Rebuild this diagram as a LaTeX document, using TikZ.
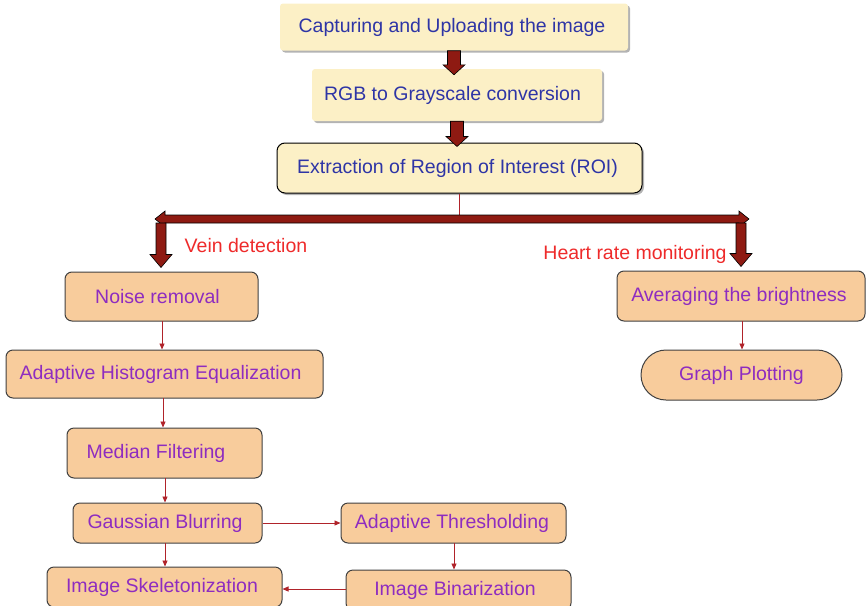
\documentclass[tikz,border=0pt]{standalone}
\usepackage{fontspec}
\setmainfont{Liberation Sans}
\usetikzlibrary{calc,shadows,arrows.meta}
\definecolor{ylw}{HTML}{FCF0C6}
\definecolor{org}{HTML}{F8CC9C}
\definecolor{txtblue}{HTML}{2E35A6}
\definecolor{txtpurp}{HTML}{8E2CC0}
\definecolor{lblred}{HTML}{EE2A2A}
\definecolor{arrred}{HTML}{8E1A12}
\definecolor{lnred}{HTML}{B0232A}
\newcommand\padr[1]{\makebox[#1]{}}
\newcommand\bigdown[5]{\draw[bigarr] let \p1=#1, \p2=#2 in
  (\x1-#3pt,\y1) -- (\x1+#3pt,\y1) -- (\x1+#3pt,\y2+#5pt) -- (\x1+#4pt,\y2+#5pt)
  -- (\x1,\y2) -- (\x1-#4pt,\y2+#5pt) -- (\x1-#3pt,\y2+#5pt) -- cycle;}
\begin{document}
\begin{tikzpicture}[x=1pt,y=-1pt,
  font=\fontsize{19.5}{23}\selectfont,
  ybox/.style={fill=ylw, rounded corners=3pt, text=txtblue, inner sep=0pt,
    drop shadow={shadow xshift=2pt,shadow yshift=-2pt,fill=black!50,opacity=0.6}},
  obox/.style={fill=org, draw=black!75, line width=1pt, rounded corners=7pt, text=txtpurp, inner sep=0pt},
  bigarr/.style={fill=arrred, draw=black, line width=0.6pt, line join=miter},
  thin/.style={draw=lnred, line width=0.9pt, -{Triangle[length=6pt,width=5pt]}},
  lbl/.style={text=lblred, inner sep=0pt}]
\useasboundingbox (0,0) rectangle (866,605);
% top boxes
\node[ybox, minimum width=348pt, minimum height=47pt] (cap) at (454,27) {Capturing and Uploading the image\padr{4pt}};
\node[ybox, minimum width=290pt, minimum height=52pt] (rgb) at (457,95) {RGB to Grayscale conversion\padr{9pt}};
\node[ybox, draw=black, line width=1pt, rounded corners=8pt, minimum width=365pt, minimum height=50pt] (roi) at (459.5,168) {Extraction of Region of Interest (ROI)\padr{4pt}};
\bigdown{(cap.south)}{($(rgb.north)+(0,6)$)}{6.5}{11}{10}
\bigdown{(rgb.south)}{($(roi.north)+(0,4)$)}{6.5}{11}{10}
% branch bar
\coordinate (bl) at (155,219);
\coordinate (br) at (749,219);
\draw[draw=lnred, line width=0.9pt] (roi.south) -- (roi.south |- bl);
\draw[bigarr] let \p1=(bl), \p2=(br) in (\x1,\y1) -- (\x1+10pt,\y1+8pt) -- (\x1+10pt,\y1+4pt)
  -- (\x2-10pt,\y1+4pt) -- (\x2-10pt,\y1+8pt) -- (\x2,\y1) -- (\x2-10pt,\y1-8pt) -- (\x2-10pt,\y1-4pt)
  -- (\x1+10pt,\y1-4pt) -- (\x1+10pt,\y1-8pt) -- cycle;
% left branch
\node[obox, minimum width=193pt, minimum height=49pt] (noise) at (161.5,296.5) {Noise removal\padr{8pt}};
\node[obox, minimum width=317pt, minimum height=48pt] (ahe) at (164.5,374) {Adaptive Histogram Equalization\padr{8pt}};
\node[obox, minimum width=195pt, minimum height=50pt] (median) at (164.5,453) {Median Filtering\padr{17pt}};
\node[obox, minimum width=189pt, minimum height=40pt] (gauss) at (167.5,523) {Gaussian Blurring\padr{5pt}};
\node[obox, minimum width=225pt, minimum height=40pt] (adth) at (453.5,523) {Adaptive Thresholding\padr{3pt}};
\node[obox, minimum width=235pt, minimum height=40pt] (skel) at (164.5,587) {Image Skeletonization\padr{5pt}};
\node[obox, minimum width=225pt, minimum height=40pt] (bin) at (458.5,590) {Image Binarization\padr{7pt}};
% right branch
\node[obox, minimum width=248pt, minimum height=50pt] (avg) at (741,296) {Averaging the brightness\padr{4pt}};
\node[obox, rounded corners=25pt, minimum width=201pt, minimum height=50pt] (graph) at (741.5,375) {Graph Plotting};
% down thick arrows
\coordinate (dl) at (161,223);
\coordinate (dr) at (741,223);
\bigdown{(dl)}{($(noise.north)+(0,-4)$)}{5}{11}{13}
\bigdown{(dr)}{($(avg.north)+(0,-4)$)}{5}{11}{13}
% labels
\node[lbl] (vein) at (246,246) {Vein detection};
\node[lbl] (heart) at (635,254) {Heart rate monitoring};
% thin connectors
\draw[thin] (162,321) coordinate (n1) -- (n1 |- ahe.north);
\draw[thin] (163,398) coordinate (n2) -- (n2 |- median.north);
\draw[thin] (165,478) coordinate (n3) -- (n3 |- gauss.north);
\draw[thin] (165,543) coordinate (n4) -- (n4 |- skel.north);
\draw[thin] (gauss.east) -- (adth.west |- gauss.east);
\draw[thin] (454,543) coordinate (n5) -- (n5 |- bin.north);
\draw[thin] (bin.west |- 0,589) coordinate (n6) -- (skel.east |- n6);
\draw[thin] (742,321) coordinate (n7) -- (n7 |- graph.north);
\end{tikzpicture}
\end{document}
